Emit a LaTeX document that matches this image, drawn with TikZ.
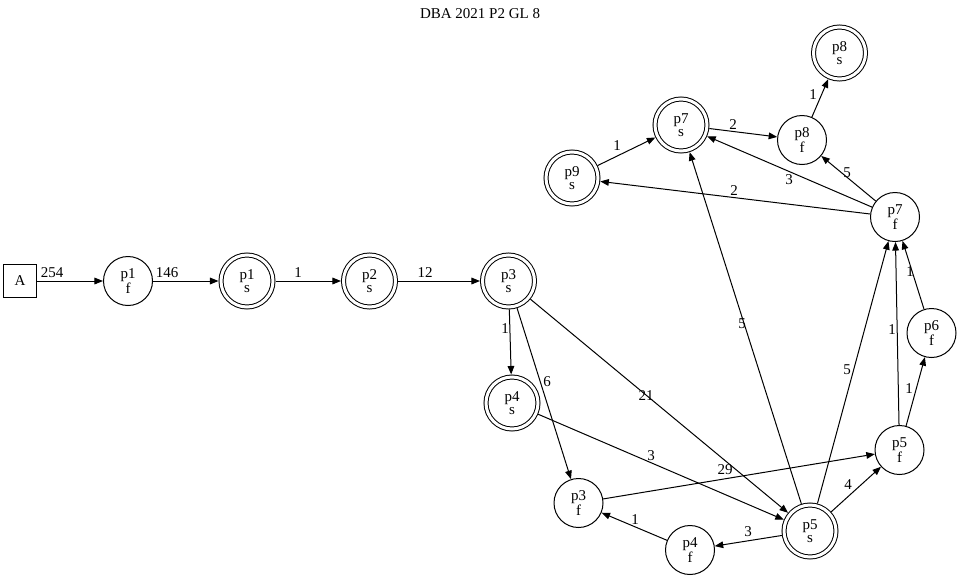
\documentclass[tikz,border=0pt]{standalone}
\usepackage{fontspec}
\setmainfont{Liberation Serif}
\usetikzlibrary{arrows.meta}
\begin{document}
\begin{tikzpicture}[x=0.75pt,y=-0.75pt,
  every node/.style={font=\fontsize{11.25}{10.25}\selectfont},
  state/.style={circle,draw,line width=0.75pt,minimum size=36.75pt,inner sep=0pt,align=center},
  accept/.style={circle,draw,line width=0.75pt,double,double distance=2.25pt,minimum size=39pt,inner sep=0pt,outer sep=1.875pt,align=center},
  startbox/.style={rectangle,draw,line width=0.75pt,minimum size=24.5pt,inner sep=0pt},
  arc/.style={line width=0.75pt,-{Triangle[length=6.4pt,width=5pt]}},
  lbl/.style={inner sep=0pt}
]
\useasboundingbox (0,0) rectangle (960,579);

% title
\node (title) at (480,14) {DBA 2021 P2 GL 8};

% states
\node[startbox] (A) at (20,281) {A};
\node[state]  (p1f) at (128,281) {p1\\f};
\node[accept] (p1s) at (247,281) {p1\\s};
\node[accept] (p2s) at (369.5,281) {p2\\s};
\node[accept] (p3s) at (508.5,281) {p3\\s};
\node[accept] (p4s) at (512,403) {p4\\s};
\node[state]  (p3f) at (578.5,503) {p3\\f};
\node[state]  (p4f) at (690,550) {p4\\f};
\node[accept] (p5s) at (810,531) {p5\\s};
\node[state]  (p5f) at (899.5,450) {p5\\f};
\node[state]  (p6f) at (931.5,333) {p6\\f};
\node[state]  (p7f) at (895,217) {p7\\f};
\node[state]  (p8f) at (802,140) {p8\\f};
\node[accept] (p8s) at (839.5,53) {p8\\s};
\node[accept] (p7s) at (681,125) {p7\\s};
\node[accept] (p9s) at (572,178) {p9\\s};

% transitions
\draw[arc] (A) -- (p1f);
\draw[arc] (p1f) -- (p1s);
\draw[arc] (p1s) -- (p2s);
\draw[arc] (p2s) -- (p3s);
\draw[arc] (p3s) -- (p4s);
\draw[arc] (p3s) -- (p3f);
\draw[arc] (p3s) -- (p5s);
\draw[arc] (p4s) -- (p5s);
\draw[arc] (p3f) -- (p5f);
\draw[arc] (p5s) -- (p4f);
\draw[arc] (p4f) -- (p3f);
\draw[arc] (p5s) -- (p5f);
\draw[arc] (p5s) -- (p7s);
\draw[arc] (p5s) -- (p7f);
\draw[arc] (p5f) -- (p7f);
\draw[arc] (p5f) -- (p6f);
\draw[arc] (p6f) -- (p7f);
\draw[arc] (p7f) -- (p9s);
\draw[arc] (p7f) -- (p7s);
\draw[arc] (p7f) -- (p8f);
\draw[arc] (p9s) -- (p7s);
\draw[arc] (p7s) -- (p8f);
\draw[arc] (p8f) -- (p8s);

% transition counts
\node[lbl] (lA)   at (52,273)  {254};
\node[lbl] (l1f)  at (167,273) {146};
\node[lbl] (l1s)  at (298,273) {1};
\node[lbl] (l2s)  at (425,273) {12};
\node[lbl] (l34)  at (505,329) {1};
\node[lbl] (l33)  at (547,382) {6};
\node[lbl] (l35)  at (646,396) {21};
\node[lbl] (l45)  at (651,456) {3};
\node[lbl] (l3f)  at (725,470) {29};
\node[lbl] (l54)  at (748,532) {3};
\node[lbl] (l4f)  at (635,520) {1};
\node[lbl] (l55)  at (848,485) {4};
\node[lbl] (l57s) at (742,324) {5};
\node[lbl] (l57f) at (847,370) {5};
\node[lbl] (l5f7) at (892,330) {1};
\node[lbl] (l5f6) at (909,389) {1};
\node[lbl] (l6f)  at (910,272) {1};
\node[lbl] (l79)  at (734,191) {2};
\node[lbl] (l77)  at (789,180) {3};
\node[lbl] (l78)  at (847,173) {5};
\node[lbl] (l9s)  at (617,146) {1};
\node[lbl] (l7s)  at (733,125) {2};
\node[lbl] (l8f)  at (813,95)  {1};
\end{tikzpicture}
\end{document}
